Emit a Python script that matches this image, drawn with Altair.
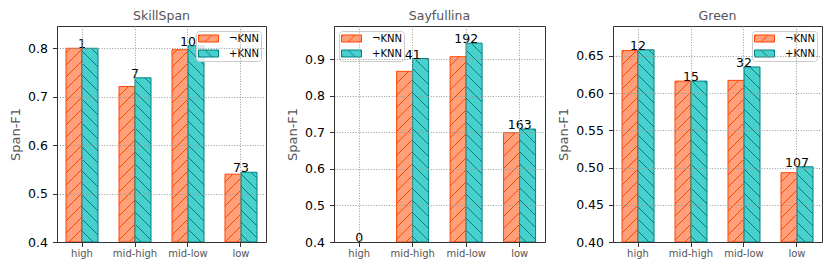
import altair as alt
import pandas as pd
import jinja2

levels = ["high", "mid-high", "mid-low", "low"]
methods = ["¬KNN", "+KNN"]

skillspan_neg = [0.800, 0.721, 0.797, 0.540]
skillspan_pos = [0.800, 0.739, 0.805, 0.544]
skillspan_counts = [1, 7, 10, 73]

sayfullina_neg = [None, 0.867, 0.907, 0.699]
sayfullina_pos = [None, 0.902, 0.944, 0.709]
sayfullina_counts = [0, 41, 192, 163]

green_neg = [0.657, 0.616, 0.617, 0.493]
green_pos = [0.658, 0.616, 0.635, 0.501]
green_counts = [12, 15, 32, 107]

fill_range = ["url(#hatchNeg)", "url(#hatchPos)"]
edge_range = ["#FF4500", "#008080"]
FONT = "DejaVu Sans"


def panel(name, neg, pos, counts, ymin, ymax, ticks, fmt, orient, width):
    rows = []
    for lv, a, b in zip(levels, neg, pos):
        for m, v in zip(methods, (a, b)):
            if v is not None:
                rows.append({"level": lv, "method": m, "value": v})
    bars_df = pd.DataFrame(rows)
    lab = []
    for lv, a, b, c in zip(levels, neg, pos, counts):
        vals = [v for v in (a, b) if v is not None]
        lab.append({"level": lv, "top": max(vals) if vals else ymin, "label": str(c)})
    lab_df = pd.DataFrame(lab)

    xscale = alt.Scale(domain=levels, paddingInner=0.396, paddingOuter=0.17)
    xaxis = alt.Axis(title=None, labelColor="#555", labelFontSize=10, labelAngle=0,
                     tickSize=4.5, tickColor="#333", grid=True, gridDash=[1, 1.6],
                     gridColor="#999", bandPosition=0.5, domainColor="#333",
                     labelPadding=2, zindex=1)
    yscale = alt.Scale(domain=[ymin, ymax], nice=False, zero=False)
    yaxis = alt.Axis(values=ticks, format=fmt, title="Span-F1", titleColor="#555",
                     titleFontSize=13, titleFontWeight="normal", titleFont=FONT,
                     labelFontSize=12.5, labelColor="#000", tickSize=4.5, tickColor="#333",
                     grid=True, gridDash=[1, 1.6], gridColor="#999", domainColor="#333",
                     labelPadding=5, titlePadding=5, zindex=1)
    legend = alt.Legend(title=None, orient=orient, offset=5,
                        fillColor="rgba(255,255,255,0.8)", strokeColor="#ccc",
                        cornerRadius=3, padding=2,
                        symbolType="M-2,-0.7L2,-0.7L2,0.7L-2,0.7Z", symbolSize=100,
                        symbolOffset=5, symbolStrokeWidth=1,
                        labelFontSize=10, labelFont=FONT, labelColor="#000",
                        rowPadding=4, labelOffset=15)

    bars = alt.Chart(bars_df).mark_bar(strokeWidth=1).encode(
        x=alt.X("level:N", sort=levels, scale=xscale, axis=xaxis),
        xOffset=alt.XOffset("method:N", sort=methods,
                            scale=alt.Scale(domain=methods, paddingInner=0, paddingOuter=0)),
        y=alt.Y("value:Q", scale=yscale, axis=yaxis),
        y2=alt.datum(ymin),
        fill=alt.Fill("method:N", sort=methods,
                      scale=alt.Scale(domain=methods, range=fill_range), legend=legend),
        stroke=alt.Stroke("method:N", sort=methods,
                          scale=alt.Scale(domain=methods, range=edge_range), legend=legend),
    )
    texts = alt.Chart(lab_df).mark_text(fontSize=12.5, font=FONT, color="#000",
                                        baseline="alphabetic", align="center").encode(
        x=alt.X("level:N", sort=levels, scale=xscale),
        y=alt.Y("top:Q", scale=yscale),
        text="label:N",
    )
    return alt.layer(bars, texts).properties(
        width=width, height=216,
        title=alt.TitleParams(name, fontSize=12.5, color="#555", font=FONT,
                              fontWeight="normal", offset=4),
    )


p1 = panel("SkillSpan", skillspan_neg, skillspan_pos, skillspan_counts,
           0.4, 0.846, [0.4, 0.5, 0.6, 0.7, 0.8], ".1f", "top-right", 209)
p2 = panel("Sayfullina", sayfullina_neg, sayfullina_pos, sayfullina_counts,
           0.4, 0.991, [0.4, 0.5, 0.6, 0.7, 0.8, 0.9], ".1f", "top-left", 211)
p3 = panel("Green", green_neg, green_pos, green_counts,
           0.4, 0.690, [0.40, 0.45, 0.50, 0.55, 0.60, 0.65], ".2f", "top-right", 209)

chart = alt.hconcat(p1, p2, p3, spacing=68, bounds="flush").resolve_scale(
    fill="independent", stroke="independent", y="independent", x="independent"
).resolve_legend(fill="independent", stroke="independent").properties(
    padding={"left": 1, "top": 1, "right": 2, "bottom": 2}
).configure(font=FONT).configure_view(stroke="#333", strokeWidth=1)

TEMPLATE = jinja2.Template("""<!DOCTYPE html>
<html>
<head>
  <meta charset="utf-8">
  <script type="text/javascript" src="{{ base_url }}/vega@{{ vega_version }}"></script>
  <script type="text/javascript" src="{{ base_url }}/vega-lite@{{ vegalite_version }}"></script>
  <script type="text/javascript" src="{{ base_url }}/vega-embed@{{ vegaembed_version }}"></script>
</head>
<body>
  <svg width="0" height="0" style="position:absolute">
    <defs>
      <pattern id="hatchNeg" patternUnits="userSpaceOnUse" width="12" height="12">
        <rect width="12" height="12" fill="#FFA07A"/>
        <path d="M-3,3 L3,-3 M0,12 L12,0 M9,15 L15,9" stroke="#FF4500" stroke-width="1"/>
      </pattern>
      <pattern id="hatchPos" patternUnits="userSpaceOnUse" width="12" height="12">
        <rect width="12" height="12" fill="#48D1CC"/>
        <path d="M-3,9 L3,15 M0,0 L12,12 M9,-3 L15,3" stroke="#008080" stroke-width="1"/>
      </pattern>
    </defs>
  </svg>
  <div id="{{ output_div }}"></div>
  <script type="text/javascript">
    vegaEmbed("#{{ output_div }}", {{ spec }}, {{ embed_options }}).catch(console.error);
  </script>
</body>
</html>
""")

chart.save("out.html", embed_options={"renderer": "svg", "actions": False}, template=TEMPLATE)
